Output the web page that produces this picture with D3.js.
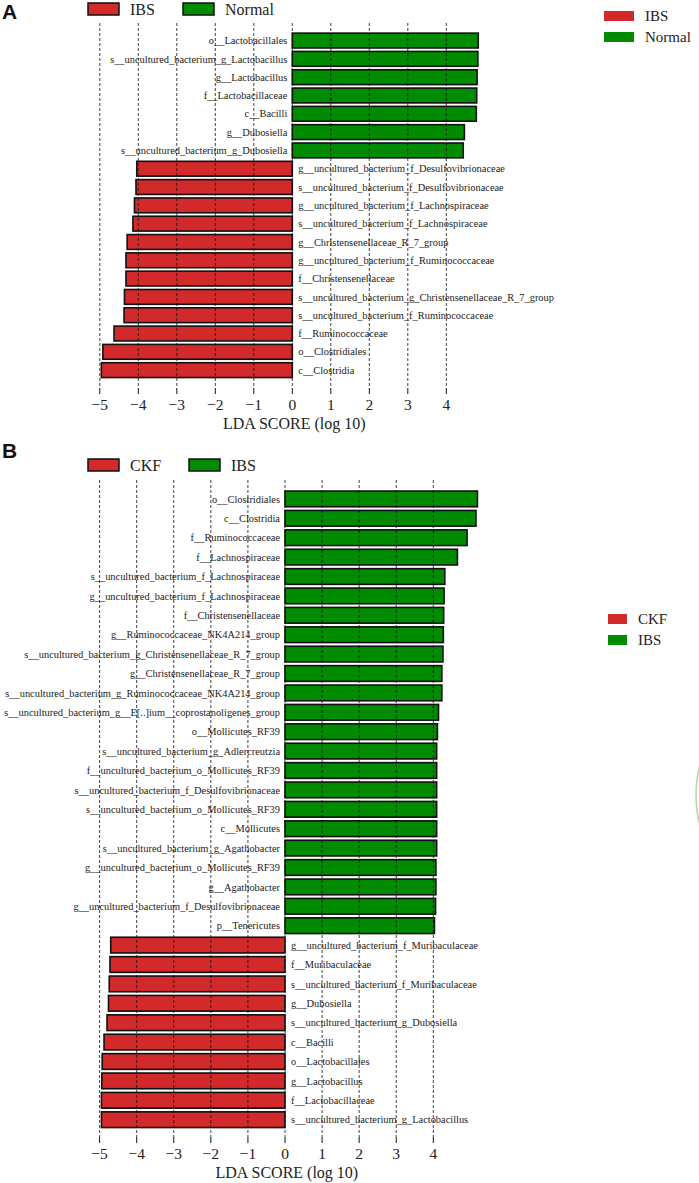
<!DOCTYPE html>
<html>
<head>
<meta charset="utf-8">
<script src="https://cdn.jsdelivr.net/npm/d3@7"></script>
<style>
  body { margin: 0; background: #fff; }
</style>
</head>
<body>
<svg id="chart" width="699" height="1183"></svg>
<script>
// panel A: IBS vs Normal
const groupsA = ["IBS", "Normal"];
const labelsA = [
    "o__Lactobacillales",
    "s__uncultured_bacterium_g_Lactobacillus",
    "g__Lactobacillus",
    "f__Lactobacillaceae",
    "c__Bacilli",
    "g__Dubosiella",
    "s__uncultured_bacterium_g_Dubosiella",
    "g__uncultured_bacterium_f_Desulfovibrionaceae",
    "s__uncultured_bacterium_f_Desulfovibrionaceae",
    "g__uncultured_bacterium_f_Lachnospiraceae",
    "s__uncultured_bacterium_f_Lachnospiraceae",
    "g__Christensenellaceae_R_7_group",
    "g__uncultured_bacterium_f_Ruminococcaceae",
    "f__Christensenellaceae",
    "s__uncultured_bacterium_g_Christensenellaceae_R_7_group",
    "s__uncultured_bacterium_f_Ruminococcaceae",
    "f__Ruminococcaceae",
    "o__Clostridiales",
    "c__Clostridia"
];
const valuesA = [4.83, 4.82, 4.80, 4.79, 4.78, 4.47, 4.44,
    -4.04, -4.06, -4.10, -4.14, -4.29, -4.32, -4.32, -4.36, -4.37, -4.63, -4.92, -4.96];

// panel B: CKF vs IBS
const groupsB = ["CKF", "IBS"];
const labelsB = [
    "o__Clostridiales",
    "c__Clostridia",
    "f__Ruminococcaceae",
    "f__Lachnospiraceae",
    "s__uncultured_bacterium_f_Lachnospiraceae",
    "g__uncultured_bacterium_f_Lachnospiraceae",
    "f__Christensenellaceae",
    "g__Ruminococcaceae_NK4A214_group",
    "s__uncultured_bacterium_g_Christensenellaceae_R_7_group",
    "g__Christensenellaceae_R_7_group",
    "s__uncultured_bacterium_g_Ruminococcaceae_NK4A214_group",
    "s__uncultured_bacterium_g__E[..]ium__coprostanoligenes_group",
    "o__Mollicutes_RF39",
    "s__uncultured_bacterium_g_Adlercreutzia",
    "f__uncultured_bacterium_o_Mollicutes_RF39",
    "s__uncultured_bacterium_f_Desulfovibrionaceae",
    "s__uncultured_bacterium_o_Mollicutes_RF39",
    "c__Mollicutes",
    "s__uncultured_bacterium_g_Agathobacter",
    "g__uncultured_bacterium_o_Mollicutes_RF39",
    "g__Agathobacter",
    "g__uncultured_bacterium_f_Desulfovibrionaceae",
    "p__Tenericutes",
    "g__uncultured_bacterium_f_Muribaculaceae",
    "f__Muribaculaceae",
    "s__uncultured_bacterium_f_Muribaculaceae",
    "g__Dubosiella",
    "s__uncultured_bacterium_g_Dubosiella",
    "c__Bacilli",
    "o__Lactobacillales",
    "g__Lactobacillus",
    "f__Lactobacillaceae",
    "s__uncultured_bacterium_g_Lactobacillus"
];
const valuesB = [5.19, 5.15, 4.91, 4.65, 4.31, 4.29, 4.28, 4.27, 4.26, 4.23, 4.23,
    4.14, 4.11, 4.09, 4.09, 4.09, 4.09, 4.09, 4.09, 4.07, 4.07, 4.06, 4.03,
    -4.70, -4.72, -4.74, -4.76, -4.80, -4.88, -4.93, -4.94, -4.95, -4.95];

const tickValues = [-5, -4, -3, -2, -1, 0, 1, 2, 3, 4];
const axisTitle = "LDA SCORE (log 10)";

const RED = "#d2292b";
const GREEN = "#008b00";
const SERIF = "'Liberation Serif', 'DejaVu Serif', serif";

const svg = d3.select("#chart");

function drawPanel(cfg) {
    const { labels, values, groups, letter } = cfg;
    const g = svg.append("g")
        .attr("font-family", SERIF)
        .attr("fill", "#222");

    const x = d3.scaleLinear().domain([-5, 0]).range([cfg.xMin, cfg.xZero]);
    const y = d3.scaleBand()
        .domain(labels)
        .range([cfg.top, cfg.bottom])
        .paddingInner(0.19)
        .paddingOuter(0.095);

    // panel letter
    g.append("text")
        .attr("x", 2)
        .attr("y", cfg.letterY)
        .attr("font-family", "'Liberation Sans', Arial, sans-serif")
        .attr("font-weight", "bold")
        .attr("font-size", 21)
        .attr("fill", "#111")
        .text(letter);

    // top legend
    const topLeg = g.selectAll(".topleg")
        .data(groups)
        .enter()
        .append("g")
        .attr("transform", (d, i) => `translate(${cfg.legX[i]},${cfg.legY})`);
    topLeg.append("rect")
        .attr("width", 31)
        .attr("height", 12)
        .attr("fill", (d, i) => (i === 0 ? RED : GREEN))
        .attr("stroke", "#111")
        .attr("stroke-width", 1.5);
    topLeg.append("text")
        .attr("x", 42)
        .attr("y", 6)
        .attr("dy", "0.35em")
        .attr("font-size", 16)
        .text((d) => d);

    // right legend
    const sideLeg = g.selectAll(".sideleg")
        .data(groups)
        .enter()
        .append("g")
        .attr("transform", (d, i) => `translate(${cfg.sideX},${cfg.sideY + i * 21})`);
    sideLeg.append("rect")
        .attr("width", cfg.sideW)
        .attr("height", 10)
        .attr("fill", (d, i) => (i === 0 ? RED : GREEN));
    sideLeg.append("text")
        .attr("x", cfg.sideW + 11)
        .attr("y", 5)
        .attr("dy", "0.35em")
        .attr("font-size", 15)
        .text((d) => d);

    // bars
    g.selectAll(".bar")
        .data(labels)
        .enter()
        .append("rect")
        .attr("x", (d, i) => x(Math.min(0, values[i])))
        .attr("y", (d) => y(d))
        .attr("width", (d, i) => Math.abs(x(values[i]) - x(0)))
        .attr("height", y.bandwidth())
        .attr("fill", (d, i) => (values[i] > 0 ? GREEN : RED))
        .attr("stroke", "#111")
        .attr("stroke-width", 1.6);

    // bar labels
    g.selectAll(".lab")
        .data(labels)
        .enter()
        .append("text")
        .attr("x", (d, i) => (values[i] > 0 ? x(0) - 5 : x(0) + 6))
        .attr("y", (d) => y(d) + y.bandwidth() / 2)
        .attr("dy", "0.35em")
        .attr("text-anchor", (d, i) => (values[i] > 0 ? "end" : "start"))
        .attr("font-size", cfg.labelSize)
        .text((d) => d);

    // dashed grid lines on top
    g.selectAll(".grid")
        .data(tickValues)
        .enter()
        .append("line")
        .attr("x1", (d) => x(d))
        .attr("x2", (d) => x(d))
        .attr("y1", cfg.gridTop)
        .attr("y2", cfg.axisY)
        .attr("stroke", "#111")
        .attr("stroke-width", 0.8)
        .attr("stroke-dasharray", "3,2");

    // axis ticks and labels
    const axis = g.append("g").attr("transform", `translate(0,${cfg.axisY})`);
    axis.selectAll("line")
        .data(tickValues)
        .enter()
        .append("line")
        .attr("x1", (d) => x(d))
        .attr("x2", (d) => x(d))
        .attr("y1", 0)
        .attr("y2", 6)
        .attr("stroke", "#111")
        .attr("stroke-width", 1);
    axis.selectAll("text")
        .data(tickValues)
        .enter()
        .append("text")
        .attr("x", (d) => x(d))
        .attr("y", 17)
        .attr("dy", "0.35em")
        .attr("text-anchor", "middle")
        .attr("font-size", 15.5)
        .text(d3.format("d"));
    axis.append("text")
        .attr("x", x(0.05))
        .attr("y", 35)
        .attr("dy", "0.35em")
        .attr("text-anchor", "middle")
        .attr("font-size", 16)
        .text(axisTitle);
}

drawPanel({
    labels: labelsA, values: valuesA, groups: groupsA, letter: "A",
    xMin: 99.8, xZero: 292.3,
    top: 31.4, bottom: 379.3,
    gridTop: 23, axisY: 388,
    letterY: 19,
    legX: [88, 183], legY: 3,
    sideX: 604, sideY: 11, sideW: 30,
    labelSize: 10.4
});

drawPanel({
    labels: labelsB, values: valuesB, groups: groupsB, letter: "B",
    xMin: 99.6, xZero: 285,
    top: 489.2, bottom: 1129.4,
    gridTop: 480, axisY: 1137,
    letterY: 458,
    legX: [88, 189], legY: 459,
    sideX: 608, sideY: 614, sideW: 19,
    labelSize: 10.4
});

// faint green arc clipped at the right edge
svg.append("circle")
    .attr("cx", 819)
    .attr("cy", 795)
    .attr("r", 123)
    .attr("fill", "none")
    .attr("stroke", "#a8dca8")
    .attr("stroke-width", 1.5);
</script>
</body>
</html>
